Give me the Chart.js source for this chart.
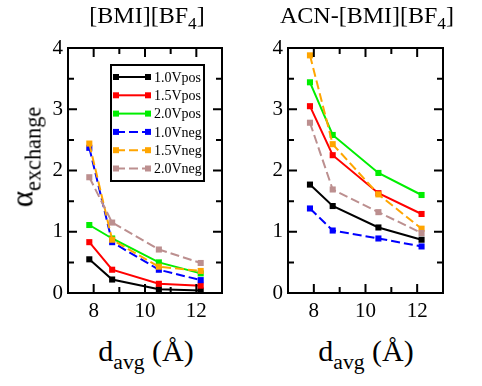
<!DOCTYPE html>
<html>
<head>
<meta charset="UTF-8">
<script src="https://cdn.jsdelivr.net/npm/chart.js"></script>
<style>
  body { margin: 0; background: #fff; }
  #wrap { position: relative; width: 482px; height: 386px; font-family: "Liberation Serif", serif; color: #000; }
  canvas { position: absolute; top: 0; }
  .lbl { position: absolute; white-space: nowrap; line-height: 1; }
  .lbl sub { font-size: 0.72em; vertical-align: baseline; position: relative; top: 0.35em; }
</style>
</head>
<body>
<div id="wrap">
  <canvas id="left" width="240" height="330" style="left:0"></canvas>
  <canvas id="right" width="242" height="330" style="left:240px"></canvas>
  <div class="lbl" style="left:147px; top:15px; transform:translate(-50%,-50%); font-size:24px">[BMI][BF<sub>4</sub>]</div>
  <div class="lbl" style="left:367px; top:15px; transform:translate(-50%,-50%); font-size:24px">ACN-[BMI][BF<sub>4</sub>]</div>
  <div class="lbl" style="left:22px; top:157px; transform:translate(-50%,-50%) rotate(-90deg); font-size:31px">&alpha;<sub>exchange</sub></div>
  <div class="lbl" style="left:146px; top:351px; transform:translate(-50%,-50%); font-size:30px">d<sub>avg</sub> (Å)</div>
  <div class="lbl" style="left:366px; top:351px; transform:translate(-50%,-50%); font-size:30px">d<sub>avg</sub> (Å)</div>
</div>
<script>
const labels = ["1.0Vpos", "1.5Vpos", "2.0Vpos", "1.0Vneg", "1.5Vneg", "2.0Vneg"];
const colors = ["#000000", "#ff0000", "#00ee00", "#0000ff", "#ffa500", "#bc8f8f"];
const dashed = [false, false, false, true, true, true];

const xIL = [7.83, 8.72, 10.54, 12.17];
const ilVals = [
  [0.55, 0.22, 0.06, 0.04],
  [0.83, 0.38, 0.15, 0.12],
  [1.11, 0.89, 0.50, 0.32],
  [2.37, 0.83, 0.38, 0.21],
  [2.44, 0.87, 0.43, 0.36],
  [1.89, 1.15, 0.71, 0.49]
];

const xACN = [7.85, 8.73, 10.5, 12.17];
const acnVals = [
  [1.77, 1.42, 1.07, 0.87],
  [3.05, 2.25, 1.63, 1.29],
  [3.44, 2.58, 1.96, 1.60],
  [1.38, 1.02, 0.89, 0.76],
  [3.88, 2.43, 1.61, 1.05],
  [2.78, 1.69, 1.32, 0.98]
];

const serif = "'Liberation Serif', serif";
Chart.defaults.font.family = serif;
Chart.defaults.color = "#000";

function makeSets(xs, vals) {
  return vals.map((v, i) => ({
    label: labels[i],
    data: v.map((y, j) => ({ x: xs[j], y: y })),
    borderColor: colors[i],
    backgroundColor: colors[i],
    borderWidth: 2,
    borderDash: dashed[i] ? [9, 4] : [],
    pointStyle: "rect",
    pointRadius: 4.3,
    pointBorderWidth: 0,
    tension: 0,
    order: 6 - i
  }));
}

// frame + inward ticks on every side
const framePlugin = {
  id: "frame",
  afterDraw(chart) {
    const { ctx, chartArea: a, scales } = chart;
    ctx.save();
    ctx.strokeStyle = "#000";
    ctx.lineWidth = 2;
    ctx.beginPath();
    for (let v = 8; v <= 12; v++) {
      const px = scales.x.getPixelForValue(v);
      const len = v % 2 === 0 ? 9 : 6;
      ctx.moveTo(px, a.bottom); ctx.lineTo(px, a.bottom - len);
      ctx.moveTo(px, a.top); ctx.lineTo(px, a.top + len);
    }
    for (let v = 0.5; v < 4; v += 0.5) {
      const py = scales.y.getPixelForValue(v);
      const len = v % 1 === 0 ? 9 : 6;
      ctx.moveTo(a.left, py); ctx.lineTo(a.left + len, py);
      ctx.moveTo(a.right, py); ctx.lineTo(a.right - len, py);
    }
    ctx.stroke();
    ctx.strokeRect(a.left, a.top, a.right - a.left, a.bottom - a.top);
    ctx.restore();
  }
};

const legendPlugin = {
  id: "boxLegend",
  afterDraw(chart) {
    const ctx = chart.ctx;
    const bx = 111, by = 65, bw = 93, bh = 116;
    ctx.save();
    ctx.fillStyle = "#fff";
    ctx.fillRect(bx, by, bw, bh);
    ctx.strokeStyle = "#000";
    ctx.lineWidth = 2;
    ctx.strokeRect(bx, by, bw, bh);
    ctx.font = "14px " + serif;
    ctx.textBaseline = "middle";
    chart.data.datasets.forEach((ds, i) => {
      const y = 77 + i * 18.3;
      ctx.strokeStyle = ds.borderColor;
      ctx.setLineDash(ds.borderDash);
      ctx.beginPath();
      ctx.moveTo(116, y); ctx.lineTo(148, y);
      ctx.stroke();
      ctx.setLineDash([]);
      ctx.fillStyle = ds.borderColor;
      ctx.fillRect(113, y - 3, 6, 6);
      ctx.fillRect(145, y - 3, 6, 6);
      ctx.fillStyle = "#000";
      ctx.fillText(ds.label, 154, y + 1);
    });
    ctx.restore();
  }
};

function makeChart(id, xs, vals, yWidth, padRight, plugins) {
  return new Chart(document.getElementById(id), {
    type: "line",
    data: { datasets: makeSets(xs, vals) },
    plugins: plugins,
    options: {
      responsive: false,
      animation: false,
      layout: { padding: { top: 48, right: padRight, left: 0, bottom: 0 } },
      plugins: { legend: { display: false }, tooltip: { enabled: false } },
      scales: {
        x: {
          type: "linear", min: 7, max: 13,
          grid: { display: true, drawOnChartArea: false, drawTicks: false },
          border: { display: false },
          afterFit: s => { s.height = 37; },
          ticks: {
            stepSize: 1, padding: 6, color: "#000", maxRotation: 0, autoSkip: false,
            font: { family: serif, size: 21 },
            callback: v => (v % 2 === 0 ? String(v) : "")
          }
        },
        y: {
          min: 0, max: 4,
          grid: { display: true, drawOnChartArea: false, drawTicks: false },
          border: { display: false },
          afterFit: s => { s.width = yWidth; },
          ticks: {
            stepSize: 0.5, padding: 5, color: "#000", autoSkip: false,
            font: { family: serif, size: 21 },
            callback: v => (v % 1 === 0 ? String(v) : "")
          }
        }
      }
    }
  });
}

makeChart("left", xIL, ilVals, 68, 18, [framePlugin, legendPlugin]);
makeChart("right", xACN, acnVals, 48, 39, [framePlugin]);
</script>
</body>
</html>
